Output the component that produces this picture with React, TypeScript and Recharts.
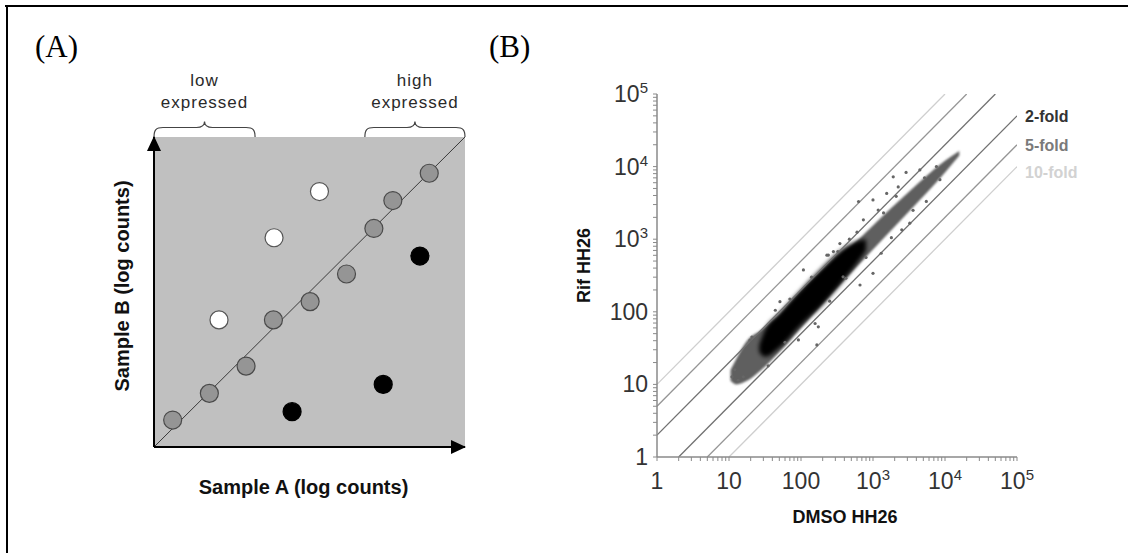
import React from "react";
import {
  ComposedChart,
  XAxis,
  YAxis,
  Line,
  Area,
  Scatter,
  CartesianGrid,
  ReferenceArea,
  ReferenceDot,
} from "recharts";

const SANS = "'Liberation Sans', Arial, sans-serif";
const SERIF = "'Liberation Serif', 'Times New Roman', serif";

// ---- panel A (schematic, arbitrary 0..10 log units) ----
const diagonal = [
  { x: 0, y: 0 },
  { x: 10, y: 10 },
];
const unchangedGenes = [
  [0.6, 0.87], [1.78, 1.73], [2.96, 2.61], [3.84, 4.1], [5.02, 4.69],
  [6.19, 5.58], [7.07, 7.05], [7.68, 7.95], [8.85, 8.83],
];
const upGenes = [[2.09, 4.1], [3.86, 6.75], [5.32, 8.24]];
const downGenes = [[4.44, 1.14], [7.37, 2.02], [8.55, 6.16]];
const lowRange = [0, 3.25];
const highRange = [6.78, 10];

// ---- panel B (counts, log-log) ----
const decades = [1, 10, 100, 1000, 10000, 100000];
const decadeLabels = [
  { base: "1" }, { base: "10" }, { base: "100" },
  { base: "10", sup: "3" }, { base: "10", sup: "4" }, { base: "10", sup: "5" },
];
const minorSteps = [2, 3, 4, 5, 6, 7, 8, 9];
const allTicks = [
  ...decades,
  ...decades.slice(0, -1).flatMap((d) => minorSteps.map((k) => d * k)),
].sort((a, b) => a - b);

const foldNames = ["2-fold", "5-fold", "10-fold"];
const foldLineColors = ["#707070", "#959595", "#cfcfcf"];
const foldTextColors = ["#333333", "#7a7a7a", "#d2d2d2"];
const foldLabelShift = [0, 0, 5];
const foldUp = [
  [{ x: 1, y: 2 }, { x: 50000, y: 100000 }],
  [{ x: 1, y: 5 }, { x: 20000, y: 100000 }],
  [{ x: 1, y: 10 }, { x: 10000, y: 100000 }],
];
const foldDown = [
  [{ x: 2, y: 1 }, { x: 100000, y: 50000 }],
  [{ x: 5, y: 1 }, { x: 100000, y: 20000 }],
  [{ x: 10, y: 1 }, { x: 100000, y: 10000 }],
];

// envelope of the whole point cloud (gray) and of its dense core (black)
const cloudX = [10.5, 12.6, 17.8, 28, 50, 100, 316, 1000, 3160, 10000, 15800];
const cloudLo = [11.2, 10, 11.2, 15.8, 28, 60, 215, 720, 2400, 8300, 14200];
const cloudHi = [15.8, 22.4, 39.8, 56, 89, 195, 520, 1550, 4500, 12000, 16400];
const coreX = [26.3, 31.6, 50, 100, 200, 400, 630, 800];
const coreLo = [28, 24, 32, 66, 126, 280, 500, 700];
const coreHi = [35, 56, 95, 200, 410, 760, 950, 1000];

// scattered single genes around the cloud
const outliers = [
  [51, 138], [44, 105], [108, 377], [240, 605], [325, 675], [157, 69],
  [166, 35], [174, 62], [384, 303], [19.6, 40.7], [20.8, 45], [92, 41],
  [11, 12.7], [13.4, 11.4], [15.8, 12.7], [12, 16], [630, 3300],
  [735, 1850], [1000, 3470], [1180, 2520], [1550, 4270], [1910, 7240],
  [2880, 8300], [4470, 8990], [7600, 10000], [8500, 6600], [1000, 339],
  [660, 234], [3240, 1660], [2510, 1350], [5500, 3310], [347, 871],
  [282, 676], [229, 603], [2240, 5250], [1300, 640], [1800, 1050],
  [2100, 3900], [1400, 2300], [3600, 2500], [5200, 7000], [800, 560],
  [600, 1250], [470, 1000], [140, 300], [70, 150], [35, 18], [60, 38],
  [250, 140], [420, 290],
];

const toPts = (arr: number[][]) => arr.map(([x, y]) => ({ x, y }));
const cloudData = cloudX.map((x, i) => ({ x, range: [cloudLo[i], cloudHi[i]] }));
const coreData = coreX.map((x, i) => ({ x, range: [coreLo[i], coreHi[i]] }));

const geneDot = (fill: string, stroke: string) => (p: any) => (
  <circle cx={p.cx} cy={p.cy} r={9} fill={fill} stroke={stroke} strokeWidth={1.2} />
);

const HTitle = ({ viewBox, text, dx = 0, dy = 0, size = 20 }: any) => {
  const cx = viewBox.x + viewBox.width / 2 + dx;
  const cy = viewBox.y + dy;
  return (
    <text x={cx} y={cy} textAnchor="middle" dominantBaseline="central"
      fontFamily={SANS} fontWeight="bold" fontSize={size} fill="#111">
      {text}
    </text>
  );
};

const VTitle = ({ viewBox, text, x, dy = 0, size = 20 }: any) => {
  const cy = viewBox.y + viewBox.height / 2 + dy;
  return (
    <text x={x} y={cy} transform={`rotate(-90 ${x} ${cy})`} textAnchor="middle"
      dominantBaseline="central" fontFamily={SANS} fontWeight="bold" fontSize={size} fill="#111">
      {text}
    </text>
  );
};

const Brace = ({ x, y, width, lines }: any) => {
  const m = x + width / 2;
  const e = x + width;
  const h = y - 9.5;
  const d = `M ${x} ${y} C ${x} ${y - 7} ${x + 2} ${h} ${x + 9} ${h} L ${m - 8} ${h} C ${m - 3} ${h} ${m} ${h - 1.5} ${m} ${h - 6} C ${m} ${h - 1.5} ${m + 3} ${h} ${m + 8} ${h} L ${e - 9} ${h} C ${e - 2} ${h} ${e} ${y - 7} ${e} ${y}`;
  return (
    <g>
      <path d={d} fill="none" stroke="#444" strokeWidth={1.2} />
      {lines.map((t: string, i: number) => (
        <text key={t} x={m} y={y - 57 + i * 22} textAnchor="middle" dominantBaseline="central"
          fontFamily={SANS} fontSize={17} letterSpacing={1} fill="#2a2a2a">
          {t}
        </text>
      ))}
    </g>
  );
};

const ArrowRight = (p: any) => (
  <polygon points={`${p.cx + 1},${p.cy} ${p.cx - 14},${p.cy - 7} ${p.cx - 14},${p.cy + 7}`} fill="#000" />
);
const ArrowUp = (p: any) => (
  <polygon points={`${p.cx},${p.cy - 1} ${p.cx - 7},${p.cy + 14} ${p.cx + 7},${p.cy + 14}`} fill="#000" />
);

const XTick = (p: any) => {
  const i = decades.indexOf(p.payload.value);
  if (i < 0) return <g />;
  const lab = decadeLabels[i];
  return (
    <text x={p.x} y={p.y + 26} textAnchor="middle" fontFamily={SANS} fontSize={23} fill="#333">
      {lab.base}
      {lab.sup && <tspan dy={-9} fontSize={15}>{lab.sup}</tspan>}
    </text>
  );
};

const YTick = (p: any) => {
  const i = decades.indexOf(p.payload.value);
  if (i < 0) return <g />;
  const lab = decadeLabels[i];
  return (
    <text x={p.x - 3} y={p.y + 8} textAnchor="end" fontFamily={SANS} fontSize={23} fill="#333">
      {lab.base}
      {lab.sup && <tspan dy={-9} fontSize={15}>{lab.sup}</tspan>}
    </text>
  );
};

const foldLabel = (text: string, color: string, shift: number) => (p: any) => (
  <text x={p.cx + 8} y={p.cy + 6 + shift} fontFamily={SANS} fontWeight="bold" fontSize={16} fill={color}>
    {text}
  </text>
);

function PanelA() {
  return (
    <ComposedChart width={520} height={553} margin={{ top: 137, right: 55, bottom: 26, left: 90 }}>
      <CartesianGrid horizontal={false} vertical={false} fill="#c0c0c0" fillOpacity={1} stroke="none" />
      <XAxis type="number" dataKey="x" domain={[0, 10]} tick={false} tickLine={false}
        axisLine={{ stroke: "#000", strokeWidth: 2 }} height={80}
        label={<HTitle text="Sample A (log counts)" dx={-6} dy={40} />} />
      <YAxis type="number" dataKey="y" domain={[0, 10]} tick={false} tickLine={false}
        axisLine={{ stroke: "#000", strokeWidth: 2 }} width={64}
        label={<VTitle text="Sample B (log counts)" x={122} dy={-6} />} />
      <ReferenceArea x1={lowRange[0]} x2={lowRange[1]} fill="none"
        shape={(p: any) => <Brace {...p} lines={["low", "expressed"]} />} />
      <ReferenceArea x1={highRange[0]} x2={highRange[1]} fill="none"
        shape={(p: any) => <Brace {...p} lines={["high", "expressed"]} />} />
      <Line data={diagonal} dataKey="y" stroke="#3a3a3a" strokeWidth={1} dot={false} isAnimationActive={false} />
      <Scatter data={toPts(unchangedGenes)} shape={geneDot("#959595", "#4a4a4a")} isAnimationActive={false} />
      <Scatter data={toPts(upGenes)} shape={geneDot("#ffffff", "#555")} isAnimationActive={false} />
      <Scatter data={toPts(downGenes)} shape={geneDot("#000000", "#000")} isAnimationActive={false} />
      <ReferenceDot x={10} y={0} shape={ArrowRight} />
      <ReferenceDot x={0} y={10} shape={ArrowUp} />
    </ComposedChart>
  );
}

function PanelB() {
  return (
    <ComposedChart width={688} height={553} margin={{ top: 94, right: 111, bottom: 24, left: 71 }}>
      <defs>
        <filter id="soft" x="-20%" y="-20%" width="140%" height="140%">
          <feGaussianBlur stdDeviation="2" />
        </filter>
        <filter id="soft2" x="-20%" y="-20%" width="140%" height="140%">
          <feGaussianBlur stdDeviation="1" />
        </filter>
      </defs>
      <XAxis type="number" dataKey="x" scale="log" domain={[1, 100000]} allowDataOverflow
        ticks={allTicks} interval={0} tick={XTick} tickSize={4}
        tickLine={{ stroke: "#8a8a8a" }} axisLine={{ stroke: "#8a8a8a", strokeWidth: 1.5 }} height={72}
        label={<HTitle text="DMSO HH26" dx={8} dy={60} size={18} />} />
      <YAxis type="number" dataKey="y" scale="log" domain={[1, 100000]} allowDataOverflow
        ticks={allTicks} interval={0} tick={YTick} tickSize={4}
        tickLine={{ stroke: "#8a8a8a" }} axisLine={{ stroke: "#8a8a8a", strokeWidth: 1.5 }} width={146}
        label={<VTitle text="Rif HH26" x={144} dy={-10} size={18} />} />
      {foldUp.map((seg, i) => (
        <Line key={"u" + i} data={seg} dataKey="y" stroke={foldLineColors[i]} strokeWidth={1.3}
          dot={false} isAnimationActive={false} />
      ))}
      {foldDown.map((seg, i) => (
        <Line key={"d" + i} data={seg} dataKey="y" stroke={foldLineColors[i]} strokeWidth={1.3}
          dot={false} isAnimationActive={false} />
      ))}
      <Area data={cloudData} dataKey="range" type="monotone" stroke="none" fill="#5f5f5f"
        fillOpacity={1} filter="url(#soft2)" isAnimationActive={false} />
      <Area data={coreData} dataKey="range" type="monotone" stroke="none" fill="#000"
        fillOpacity={1} filter="url(#soft)" isAnimationActive={false} />
      <Scatter data={toPts(outliers)} isAnimationActive={false}
        shape={(p: any) => <circle cx={p.cx} cy={p.cy} r={1.6} fill="#666" />} />
      {foldDown.map((seg, i) => (
        <ReferenceDot key={"l" + i} x={seg[1].x} y={seg[1].y} ifOverflow="visible"
          shape={foldLabel(foldNames[i], foldTextColors[i], foldLabelShift[i])} />
      ))}
    </ComposedChart>
  );
}

export default function App() {
  return (
    <div style={{ position: "absolute", left: 0, top: 0, width: 1128, height: 553, background: "#fff" }}>
      <svg width={1128} height={553} style={{ position: "absolute", left: 0, top: 0 }}>
        <rect x={5} y={5} width={1123} height={2} fill="#000" />
        <rect x={6} y={5} width={2} height={548} fill="#000" />
        <text x={35} y={57} fontFamily={SERIF} fontSize={31} fill="#000">(A)</text>
        <text x={489} y={57} fontFamily={SERIF} fontSize={31} fill="#000">(B)</text>
      </svg>
      <div style={{ position: "absolute", left: 0, top: 0 }}>
        <PanelA />
      </div>
      <div style={{ position: "absolute", left: 440, top: 0 }}>
        <PanelB />
      </div>
    </div>
  );
}
